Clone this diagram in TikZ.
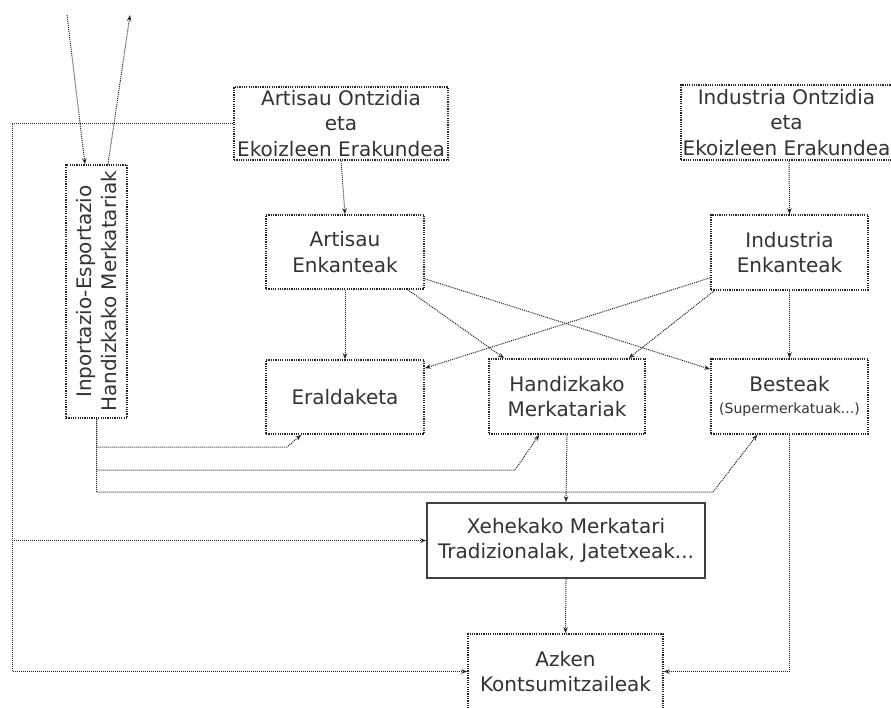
\documentclass[tikz,border=0pt]{standalone}
\usepackage{fontspec}
\setmainfont{DejaVu Sans}
\usetikzlibrary{arrows.meta,calc}
\begin{document}
\begin{tikzpicture}[x=1pt,y=-1pt,
  box/.style={draw=black!85, line width=1.6pt, dash pattern=on 1.2pt off 1.1pt, fill=white, inner sep=0pt, align=center, text=black!80, font=\fontsize{20}{25.5}\selectfont},
  solidbox/.style={box, solid, draw=black!75, line width=1.8pt},
  txt/.style={inner sep=0pt, align=center, text=black!80, font=\fontsize{20}{25.5}\selectfont},
  conn/.style={draw=black!85, line width=1pt, dash pattern=on 1pt off 1pt},
  arr/.style={conn, -{Stealth[length=6pt,width=4.5pt]}}]
\useasboundingbox (0,0) rectangle (891,707);
% nodes
\node[box, minimum width=214, minimum height=73] (ao) at (341,123.5) {Artisau Ontzidia\\eta\\Ekoizleen Erakundea};
\node[box, minimum width=211, minimum height=75] (io) at (786.5,122.5) {Industria Ontzidia\\eta\\Ekoizleen Erakundea};
\node[box, minimum width=158, minimum height=74] (ae) at (345,252) {Artisau\\Enkanteak};
\node[box, minimum width=157, minimum height=75] (ie) at (789.5,252.5) {Industria\\Enkanteak};
\node[box, minimum width=158, minimum height=74] (era) at (345,397) {Eraldaketa};
\node[box, minimum width=156, minimum height=75] (hm) at (567,396.5) {Handizkako\\Merkatariak};
\node[box, minimum width=157, minimum height=75] (be) at (789.5,396.5) {Besteak\\[-3pt]{\fontsize{14}{17}\selectfont(Supermerkatuak...)}};
\node[solidbox, minimum width=278, minimum height=75] (xe) at (566,540.5) {Xehekako Merkatari\\Tradizionalak, Jatetxeak...};
\node[box, minimum width=195, minimum height=75] (az) at (565.5,671.5) {Azken\\Kontsumitzaileak};
\node[box, minimum width=61, minimum height=253] (ip) at (96.5,291.5) {};
\node[txt, rotate=90] (ipt) at (ip.center) {Inportazio-Esportazio\\Handizkako Merkatariak};
% helper coordinates
\coordinate (lx) at (12,0);
\coordinate (t1) at (67,15);
\coordinate (t2) at (130,15);
\coordinate (j1) at (287,447);
\coordinate (j2) at (515,470);
\coordinate (j3) at (713,492);
% connectors
\draw[arr] (t1) -- ([xshift=-11.5pt]ip.north);
\draw[arr] ([xshift=11.5pt]ip.north) -- (t2);
\draw[arr] (ao.south) -- (ae.north);
\draw[arr] ([xshift=2.5pt]io.south) -- (ie.north);
\draw[arr] (ae.south) -- (era.north);
\draw[arr] ([xshift=-17pt]ae.south east) -- ([xshift=16pt]hm.north west);
\draw[arr] ([yshift=11pt]ae.south east) -- ([yshift=-11pt]be.north west);
\draw[arr] ([yshift=13pt]ie.south west) -- ([yshift=-9pt]era.north east);
\draw[arr] ([xshift=4pt]ie.south west) -- ([xshift=-17pt]hm.north east);
\draw[arr] (ie.south) -- (be.north);
\draw[arr] (hm.south) -- (xe.north);
\draw[arr] (xe.south) -- (az.north);
\draw[arr] (be.south) |- (az.east);
\draw[arr] (ao.west) -- (ao.west -| lx) |- (az.west);
\draw[arr] (xe.west -| lx) -- (xe.west);
\draw[arr] (ip.south) |- (j1) -- ([xshift=36pt]era.south west);
\draw[arr] (ip.south) |- (j2) -- ([xshift=51pt]hm.south west);
\draw[arr] (ip.south) |- (j3) -- ([xshift=47pt]be.south west);
\end{tikzpicture}
\end{document}
